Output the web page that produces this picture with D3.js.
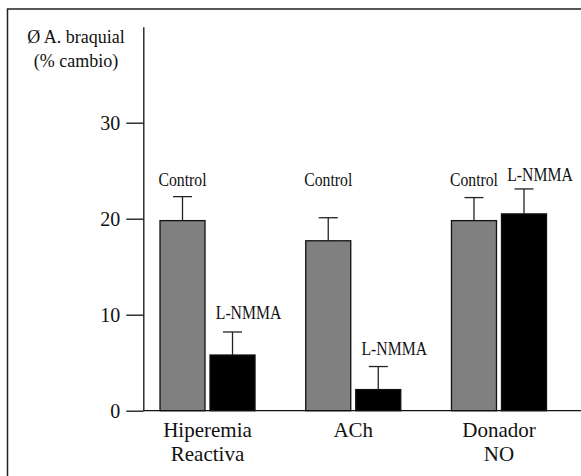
<!DOCTYPE html>
<html>
<head>
<meta charset="utf-8">
<script src="https://cdn.jsdelivr.net/npm/d3@7"></script>
<style>
  body { margin: 0; background: #fff; }
  svg { display: block; }
</style>
</head>
<body>
<div id="chart"></div>
<script>
// data
const groups = ["Hiperemia Reactiva", "ACh", "Donador NO"];
const groupLines = [["Hiperemia", "Reactiva"], ["ACh"], ["Donador", "NO"]];
const treatments = ["Control", "L-NMMA"];
const controlValues = [19.8, 17.7, 19.8];
const controlErrors = [2.5, 2.4, 2.4];
const lnmmaValues = [5.8, 2.2, 20.5];
const lnmmaErrors = [2.4, 2.4, 2.6];
// where the bar labels sit, in axis units
const controlLabelAt = [23.4, 23.4, 23.4];
const lnmmaLabelAt = [9.6, 5.8, 23.9];
const yTicks = [0, 10, 20, 30];

const width = 581;
const height = 476;
const serif = "'Liberation Serif'";

const svg = d3.select("#chart")
  .append("svg")
  .attr("width", width)
  .attr("height", height);

// frame (runs off the right and bottom edges in the original)
svg.append("rect")
  .attr("x", 7.5)
  .attr("y", 9)
  .attr("width", 600)
  .attr("height", 500)
  .attr("fill", "none")
  .attr("stroke", "#222")
  .attr("stroke-width", 1.5);

const y = d3.scaleLinear().domain([0, 40]).range([410.7, 26.7]);

const x0 = d3.scaleBand()
  .domain(groups)
  .range([160, 546.5])
  .paddingInner(0.348)
  .paddingOuter(0);

const x1 = d3.scaleBand()
  .domain(treatments)
  .range([0, x0.bandwidth()])
  .paddingInner(0.1);

const rows = groups.map((g, i) => [
  { group: g, t: "Control", v: controlValues[i], e: controlErrors[i], at: controlLabelAt[i], dx: 0 },
  { group: g, t: "L-NMMA", v: lnmmaValues[i], e: lnmmaErrors[i], at: lnmmaLabelAt[i], dx: 16 }
]).flat();

const cx = (d) => x0(d.group) + x1(d.t) + x1.bandwidth() / 2;

// bars
svg.append("g")
  .selectAll("rect")
  .data(rows)
  .join("rect")
  .attr("x", (d) => x0(d.group) + x1(d.t))
  .attr("y", (d) => y(d.v))
  .attr("width", x1.bandwidth())
  .attr("height", (d) => y(0) - y(d.v))
  .attr("fill", (d) => (d.t === "Control" ? "#808080" : "#000"))
  .attr("stroke", "#111")
  .attr("stroke-width", 1.3);

// error bars
const err = svg.append("g")
  .attr("stroke", "#222")
  .attr("stroke-width", 1.3)
  .selectAll("g")
  .data(rows)
  .join("g");

err.append("line")
  .attr("x1", cx)
  .attr("x2", cx)
  .attr("y1", (d) => y(d.v))
  .attr("y2", (d) => y(d.v + d.e));

err.append("line")
  .attr("x1", (d) => cx(d) - 9.5)
  .attr("x2", (d) => cx(d) + 9.5)
  .attr("y1", (d) => y(d.v + d.e))
  .attr("y2", (d) => y(d.v + d.e));

// bar labels, narrow face
svg.append("g")
  .selectAll("text")
  .data(rows)
  .join("text")
  .attr("transform", (d) => `translate(${cx(d) + d.dx},${y(d.at)}) scale(0.85,1)`)
  .attr("text-anchor", "middle")
  .style("font-family", serif)
  .style("font-size", "18.5px")
  .attr("fill", "#111")
  .text((d) => d.t);

// y axis
const yAxis = svg.append("g")
  .attr("transform", "translate(143.3,0)")
  .call(d3.axisLeft(y).tickValues(yTicks).tickSize(17).tickPadding(6).tickSizeOuter(0));

yAxis.select(".domain").attr("stroke", "#111").attr("stroke-width", 1.3);
yAxis.selectAll(".tick line").attr("stroke", "#111").attr("stroke-width", 1.3);
yAxis.selectAll(".tick text")
  .style("font-family", serif)
  .style("font-size", "20px")
  .attr("fill", "#111");

// baseline
svg.append("line")
  .attr("x1", 143.3)
  .attr("x2", 581)
  .attr("y1", y(0))
  .attr("y2", y(0))
  .attr("stroke", "#111")
  .attr("stroke-width", 1.3);

// group labels
const gl = svg.append("g")
  .selectAll("text")
  .data(groups)
  .join("text")
  .attr("text-anchor", "middle")
  .style("font-family", serif)
  .style("font-size", "21px")
  .attr("fill", "#111");

gl.selectAll("tspan")
  .data((d, i) => groupLines[i].map((s) => ({ s, g: d })))
  .join("tspan")
  .attr("x", (d) => x0(d.g) + x0.bandwidth() / 2)
  .attr("y", (d, j) => 437.3 + j * 24)
  .text((d) => d.s);

// axis title
svg.append("g")
  .selectAll("text")
  .data(["Ø A. braquial", "(% cambio)"])
  .join("text")
  .attr("x", 76)
  .attr("y", (d, i) => 43.3 + i * 23.5)
  .attr("text-anchor", "middle")
  .style("font-family", serif)
  .style("font-size", "18px")
  .attr("fill", "#111")
  .text((d) => d);
</script>
</body>
</html>
